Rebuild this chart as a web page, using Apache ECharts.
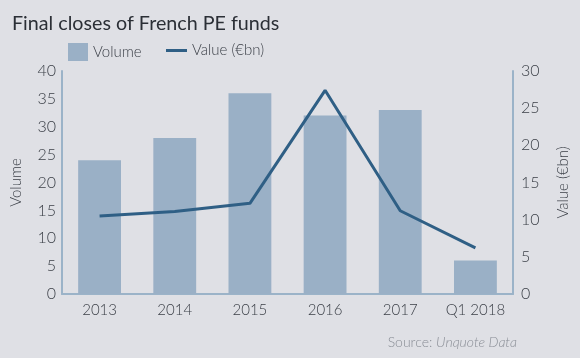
<!DOCTYPE html>
<html><head><meta charset="utf-8">
<script src="https://cdn.jsdelivr.net/npm/echarts@6/dist/echarts.min.js"></script>
<style>html,body{margin:0;padding:0;background:#dfe0e5;}#c{width:580px;height:358px;}</style>
</head><body><div id="c"></div>
<script>
const categories = ['2013','2014','2015','2016','2017','Q1 2018'];
const volume = [24, 28, 36, 32, 33, 6];
const value = [10.5, 11.1, 12.2, 27.4, 11.2, 6.2];
const leftTicks = {min: 0, max: 40, interval: 5};
const rightTicks = {min: 0, max: 30, interval: 5};

const font = 'Lato, "Open Sans", sans-serif';
const axisColor = '#9bb3c8';
const textColor = '#3c4048';
const lw = 300;
const chart = echarts.init(document.getElementById('c'));
chart.setOption({
  backgroundColor: '#dfe0e5',
  animation: false,
  textStyle: {fontFamily: font},
  title: {
    text: 'Final closes of French PE funds',
    left: 7, top: 9,
    textStyle: {fontFamily: font, fontSize: 19.7, fontWeight: 'normal', color: '#2b2f36'}
  },
  legend: [{
    data: ['Volume'], left: 63, top: 38, itemWidth: 20, itemHeight: 18, icon: 'rect',
    textStyle: {fontFamily: font, fontSize: 15, fontWeight: lw, color: textColor}, itemGap: 6
  },{
    data: ['Value (€bn)'], left: 161, top: 38, itemWidth: 21, itemHeight: 3, icon: 'rect',
    textStyle: {fontFamily: font, fontSize: 15, fontWeight: lw, color: textColor}, itemGap: 6
  }],
  grid: {left: 62, right: 67, top: 71, bottom: 64},
  xAxis: {
    type: 'category', data: categories,
    axisLine: {lineStyle: {color: axisColor, width: 2}},
    axisTick: {show: false},
    axisLabel: {fontFamily: font, fontSize: 15, fontWeight: lw, color: textColor, margin: 9, interval: 0}
  },
  yAxis: [{
    type: 'value', min: leftTicks.min, max: leftTicks.max, interval: leftTicks.interval,
    name: 'Volume', nameLocation: 'middle', nameGap: 38, nameRotate: 90,
    nameTextStyle: {fontFamily: font, fontSize: 15, fontWeight: lw, color: textColor},
    axisLine: {show: true, lineStyle: {color: axisColor, width: 2}},
    axisTick: {show: false}, splitLine: {show: false},
    axisLabel: {fontFamily: font, fontSize: 16, fontWeight: lw, color: textColor, margin: 6}
  },{
    type: 'value', min: rightTicks.min, max: rightTicks.max, interval: rightTicks.interval,
    name: 'Value (€bn)', nameLocation: 'middle', nameGap: 43, nameRotate: 90,
    nameTextStyle: {fontFamily: font, fontSize: 15, fontWeight: lw, color: textColor},
    axisLine: {show: true, lineStyle: {color: axisColor, width: 2}},
    axisTick: {show: false}, splitLine: {show: false},
    axisLabel: {fontFamily: font, fontSize: 16, fontWeight: lw, color: textColor, margin: 8}
  }],
  series: [{
    name: 'Volume', type: 'bar', data: volume, barWidth: '57%',
    itemStyle: {color: '#9ab0c6'}, yAxisIndex: 0
  },{
    name: 'Value (€bn)', type: 'line', data: value, yAxisIndex: 1,
    symbol: 'none', lineStyle: {color: '#2f5f85', width: 3}, itemStyle: {color: '#2f5f85'}
  }],
  graphic: [{
    type: 'text', right: 63, top: 335,
    style: {
      text: '{a|Source: }{b|Unquote Data}',
      fill: '#8a8e96',
      rich: {
        a: {fontFamily: font, fontSize: 14, fontWeight: lw, fill: '#8a8e96', color: '#8a8e96'},
        b: {fontFamily: font, fontSize: 14, fontWeight: lw, fill: '#8a8e96', color: '#8a8e96', fontStyle: 'italic'}
      }
    }
  }]
});
</script></body></html>
